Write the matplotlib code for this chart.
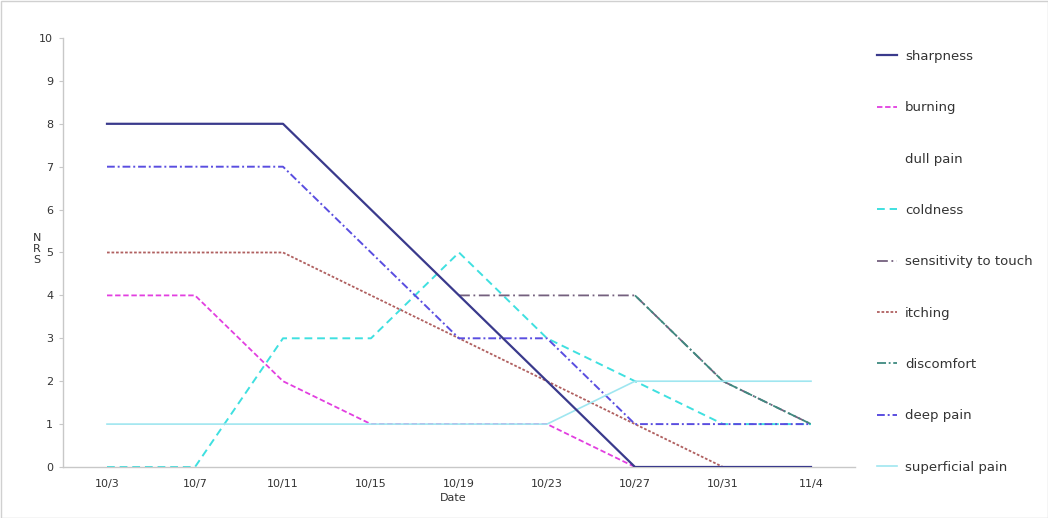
import numpy as np
import matplotlib
matplotlib.use("Agg")
import matplotlib.pyplot as plt
from matplotlib.patches import Rectangle

nan = np.nan
dates = ["10/3", "10/7", "10/11", "10/15", "10/19", "10/23", "10/27", "10/31", "11/4"]
sharpness = [8, 8, 8, 6, 4, 2, 0, 0, 0]
burning = [4, 4, 2, 1, 1, 1, 0, nan, nan]
dull_pain = [nan] * 9
coldness = [0, 0, 3, 3, 5, 3, 2, 1, 1]
sensitivity = [nan, nan, nan, nan, 4, 4, 4, 2, 1]
itching = [5, 5, 5, 4, 3, 2, 1, 0, nan]
discomfort = [nan, nan, nan, nan, nan, nan, 4, 2, 1]
deep_pain = [7, 7, 7, 5, 3, 3, 1, 1, 1]
superficial = [1, 1, 1, 1, 1, 1, 2, 2, 2]

series = [
    ("sharpness", sharpness, "#3a3a8c", "-", 1.6, 5),
    ("burning", burning, "#e23fe0", (0, (3, 1.5)), 1.3, 2),
    ("dull pain", dull_pain, "#ffffff", "-", 1.3, 2),
    ("coldness", coldness, "#3fe0e0", (0, (4, 2.5)), 1.4, 2),
    ("sensitivity to touch", sensitivity, "#74607e", (0, (6, 2, 1, 2)), 1.3, 2),
    ("itching", itching, "#b06060", (0, (1.5, 1)), 1.3, 2),
    ("discomfort", discomfort, "#3f8a80", (0, (5, 1.5, 1, 1.5)), 1.3, 2),
    ("deep pain", deep_pain, "#5a4ee0", (0, (4, 1.5, 1, 1.5)), 1.4, 2),
    ("superficial pain", superficial, "#9fe6f0", "-", 1.2, 2),
]

fig = plt.figure(figsize=(10.48, 5.18), dpi=100)
ax = fig.add_axes([63 / 1048, 1 - 467 / 518, (855 - 63) / 1048, (467 - 38) / 518])
x = np.arange(len(dates))
for name, vals, c, ls, lw, z in series:
    ax.plot(x, vals, color=c, linestyle=ls, linewidth=lw, label=name, zorder=z)

ax.set_xlim(-0.5, len(dates) - 0.5)
ax.set_ylim(0, 10)
ax.set_yticks(range(0, 11))
ax.set_xticks(x)
ax.set_xticklabels(dates)
for s in ["top", "right"]:
    ax.spines[s].set_visible(False)
for s in ["left", "bottom"]:
    ax.spines[s].set_color("#c8c8c8")
    ax.spines[s].set_linewidth(1.0)
ax.tick_params(axis="y", length=3, color="#c8c8c8", labelsize=8, labelcolor="#333333", pad=4)
ax.tick_params(axis="x", length=0, labelsize=8, labelcolor="#333333", pad=9)

fig.text(37 / 1048, 1 - 249 / 518, "N\nR\nS", ha="center", va="center",
         fontsize=8, color="#333333", linespacing=1.1)
fig.text(453 / 1048, 1 - 498 / 518, "Date", ha="center", va="center",
         fontsize=8, color="#333333")

leg = ax.legend(loc="upper left", bbox_to_anchor=(865 / 1048, 1 - 38 / 518),
                bbox_transform=fig.transFigure, frameon=False, fontsize=9.5,
                labelspacing=2.905, handlelength=1.5, handletextpad=0.65)
for t in leg.get_texts():
    t.set_color("#333333")

fig.patches.append(Rectangle((0.5 / 1048, 0.5 / 518), 1 - 1 / 1048, 1 - 1 / 518,
                             transform=fig.transFigure, fill=False,
                             edgecolor="#d0d0d0", linewidth=1))
fig.savefig("out.png", dpi=100)
